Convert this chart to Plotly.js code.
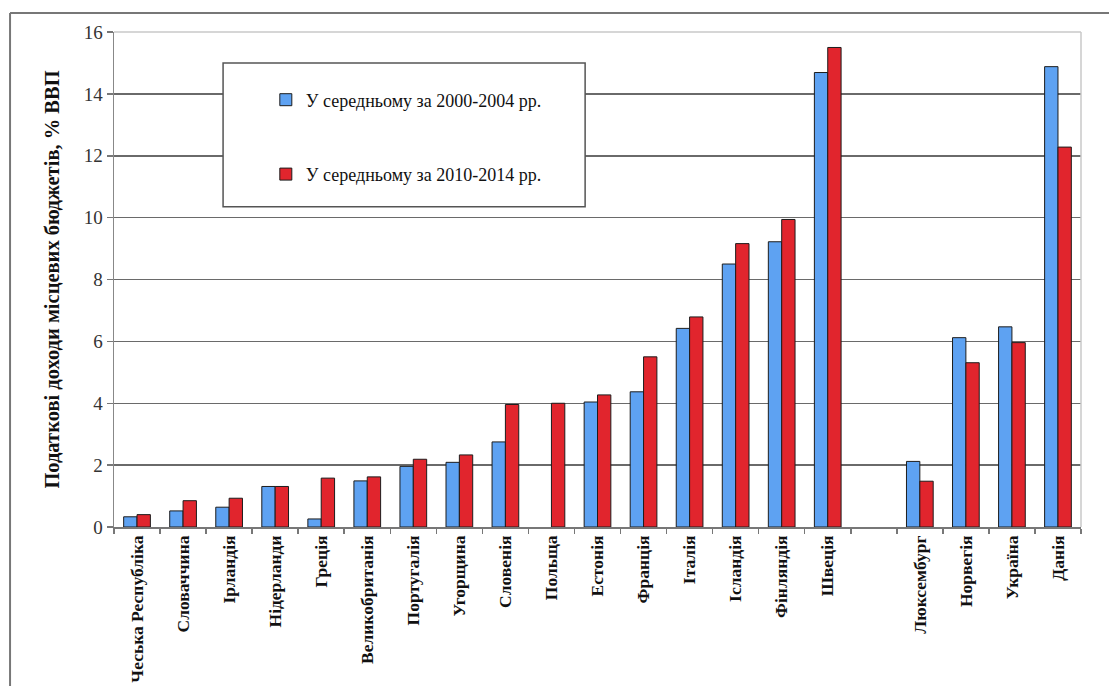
<!DOCTYPE html>
<html>
<head>
<meta charset="utf-8">
<script src="https://cdn.plot.ly/plotly-3.0.1.min.js"></script>
<style>html,body{margin:0;padding:0;background:#fff;}#chart{width:1109px;height:686px;}</style>
</head>
<body>
<div id="chart"></div>
<script>
const categories = ["Чеська Республіка","Словаччина","Ірландія","Нідерланди","Греція","Великобританія","Португалія","Угорщина","Словенія","Польща","Естонія","Франція","Італія","Ісландія","Фінляндія","Швеція"," ","Люксембург","Норвегія","Україна","Данія"];
const avg2000_2004 = [0.33,0.52,0.64,1.31,0.26,1.49,1.96,2.09,2.75,null,4.04,4.37,6.42,8.5,9.22,14.69,null,2.12,6.12,6.47,14.88];
const avg2010_2014 = [0.4,0.85,0.93,1.31,1.58,1.62,2.19,2.33,3.96,4.0,4.27,5.5,6.79,9.16,9.94,15.5,null,1.48,5.31,5.96,12.28];
const seriesNames = ["У середньому за 2000-2004 рр.","У середньому за 2010-2014 рр."];
const yTitle = "Податкові доходи місцевих бюджетів, % ВВП";

const serif = "Liberation Serif";
const traces = [
  {type:'bar', x:categories, y:avg2000_2004, name:seriesNames[0], legendgroup:'a',
   marker:{color:'#5ea2f2', line:{color:'#1d1d1d', width:1}}},
  {type:'bar', x:categories, y:avg2010_2014, name:seriesNames[1], legendgroup:'b',
   marker:{color:'#e1252d', line:{color:'#1d1d1d', width:1}}}
];
const layout = {
  width:1109, height:686,
  font:{family:serif},
  margin:{l:114, r:28, t:32, b:158.5},
  paper_bgcolor:'#fff', plot_bgcolor:'#fff',
  barmode:'group', bargap:0.42, bargroupgap:0,
  showlegend:true,
  legend:{x:0.157, y:0.9, xanchor:'left', yanchor:'top', bgcolor:'rgba(0,0,0,0)', borderwidth:0,
          tracegroupgap:48, traceorder:'grouped',
          font:{family:serif, size:18, color:'#111'}},
  xaxis:{type:'category', tickangle:-90, showline:true, linecolor:'#777', linewidth:1.5,
         ticks:'outside', tickson:'boundaries', ticklen:5, tickcolor:'#777', tickwidth:1.5,
         tickfont:{family:serif, size:17.5, color:'#111', weight:'bold'}, showgrid:false, fixedrange:true},
  yaxis:{range:[0,16], dtick:2, showline:true, linecolor:'#888', linewidth:1.5,
         ticks:'outside', ticklen:6, tickcolor:'#777', tickwidth:1.5,
         showgrid:true, gridcolor:'#6a6a6a', gridwidth:1.5, zeroline:false,
         tickfont:{family:serif, size:19, color:'#333'},
         title:{text:yTitle, font:{family:serif, size:20.5, color:'#111', weight:'bold'}, standoff:18}},
  shapes:[
    {type:'line', xref:'paper', yref:'paper', x0:1, x1:1, y0:0, y1:1, line:{color:'#c8c8c8', width:1.5}},
    {type:'line', xref:'paper', yref:'paper', x0:0, x1:1, y0:1, y1:1, line:{color:'#c8c8c8', width:1.5}},
    {type:'rect', xref:'paper', yref:'paper', x0:0.1128, x1:0.4872, y0:0.647, y1:0.9374,
     fillcolor:'#fff', line:{color:'#555', width:1.5}, layer:'above'},
    {type:'line', xref:'paper', yref:'paper', x0:-0.1075, x1:-0.1075, y0:-0.33, y1:1.0383, line:{color:'#777', width:2}},
    {type:'line', xref:'paper', yref:'paper', x0:-0.1075, x1:1.03, y0:1.0383, y1:1.0383, line:{color:'#777', width:2}}
  ]
};
Plotly.newPlot('chart', traces, layout, {displayModeBar:false, staticPlot:true});
</script>
</body>
</html>
